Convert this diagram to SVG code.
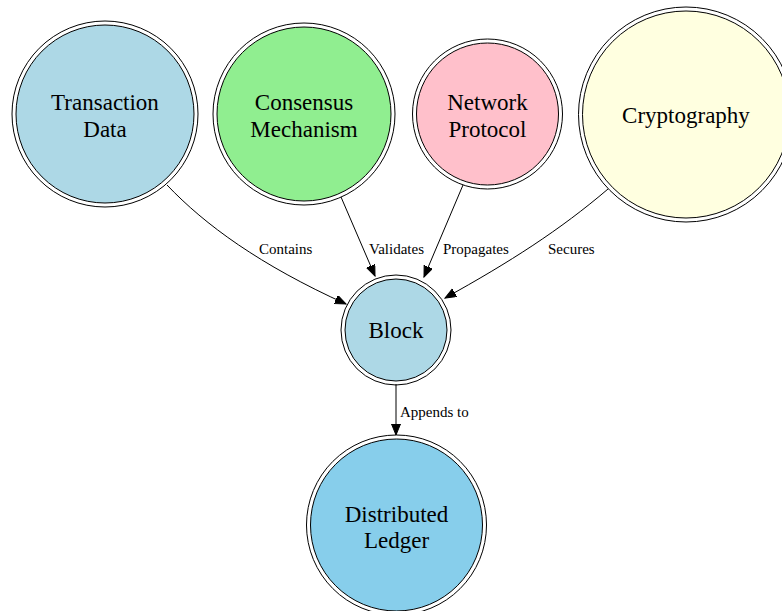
<svg xmlns="http://www.w3.org/2000/svg" width="782" height="611" viewBox="0 0 782 611">
<style>
.outer{fill:none;stroke:#000;stroke-width:1}
.inner{stroke:#000;stroke-width:1}
.nl{font-family:"Liberation Serif","Times New Roman",serif;font-size:23px;text-anchor:middle;fill:#000}
.el{font-family:"Liberation Serif","Times New Roman",serif;font-size:15px;fill:#000}
.edge{fill:none;stroke:#000;stroke-width:1}
</style>
<defs>
<marker id="ah" markerUnits="userSpaceOnUse" markerWidth="12" markerHeight="10" refX="11" refY="4.5" orient="auto">
<path d="M0,0 L11,4.5 L0,9 Z" fill="#000" stroke="#000" stroke-width="1"/>
</marker>
</defs>
<rect width="782" height="611" fill="#fff"/>
<g id="edges">
<path class="edge" d="M167,185 C205,225 260,265 346,304" marker-end="url(#ah)"/>
<text class="el" x="259" y="254">Contains</text>
<path class="edge" d="M341,197 L375,276" marker-end="url(#ah)"/>
<text class="el" x="369" y="254">Validates</text>
<path class="edge" d="M463,185 L424,277" marker-end="url(#ah)"/>
<text class="el" x="443" y="254">Propagates</text>
<path class="edge" d="M608,189 C560,230 510,262 445,298" marker-end="url(#ah)"/>
<text class="el" x="548" y="254">Secures</text>
<path class="edge" d="M396,384 L396,435" marker-end="url(#ah)"/>
<text class="el" x="400" y="417">Appends to</text>
</g>
<g id="transaction">
<circle class="outer" cx="105" cy="114" r="93"/>
<circle class="inner" cx="105" cy="114" r="89" fill="#add8e6"/>
<text class="nl" x="105" y="110">Transaction</text>
<text class="nl" x="105" y="137">Data</text>
</g>
<g id="consensus">
<circle class="outer" cx="304" cy="114" r="91"/>
<circle class="inner" cx="304" cy="114" r="87" fill="#90ee90"/>
<text class="nl" x="304" y="110">Consensus</text>
<text class="nl" x="304" y="137">Mechanism</text>
</g>
<g id="network">
<circle class="outer" cx="487.5" cy="114" r="75"/>
<circle class="inner" cx="487.5" cy="114" r="71" fill="#ffc0cb"/>
<text class="nl" x="487.5" y="110">Network</text>
<text class="nl" x="487.5" y="137">Protocol</text>
</g>
<g id="crypto">
<circle class="outer" cx="686" cy="114.5" r="107.5"/>
<circle class="inner" cx="686" cy="114.5" r="103.5" fill="#ffffe0"/>
<text class="nl" x="686" y="123">Cryptography</text>
</g>
<g id="block">
<circle class="outer" cx="396" cy="330" r="55"/>
<circle class="inner" cx="396" cy="330" r="51" fill="#add8e6"/>
<text class="nl" x="396" y="338">Block</text>
</g>
<g id="ledger">
<circle class="outer" cx="396.5" cy="525" r="90"/>
<circle class="inner" cx="396.5" cy="525" r="86" fill="#87ceeb"/>
<text class="nl" x="396.5" y="522">Distributed</text>
<text class="nl" x="396.5" y="548">Ledger</text>
</g>
</svg>
